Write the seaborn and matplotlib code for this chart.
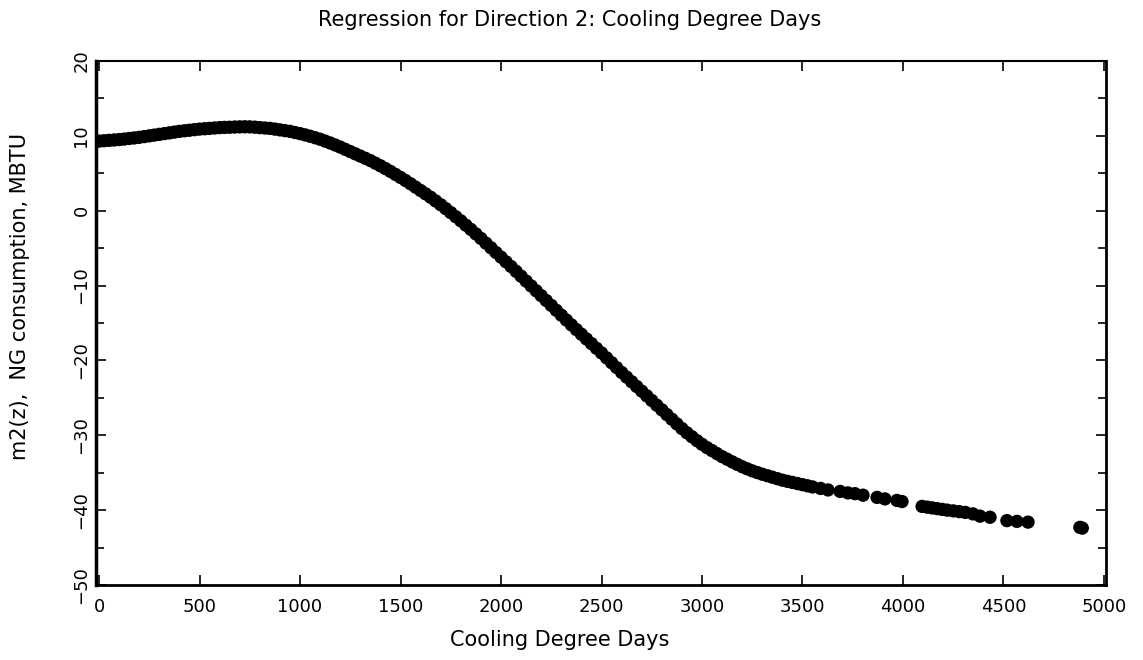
import matplotlib
matplotlib.use("Agg")
import matplotlib.pyplot as plt
import seaborn as sns
import pandas as pd
from matplotlib.ticker import MultipleLocator

# ---- data ----
cdd_band = [0, 25, 50, 75, 100, 125, 150, 175, 200, 225, 250, 275, 300, 325, 350, 375,
            400, 425, 450, 475, 500, 525, 550, 575, 600, 625, 650, 675, 700, 725, 750, 775,
            800, 825, 850, 875, 900, 925, 950, 975, 1000, 1025, 1050, 1075, 1100, 1125, 1150, 1175,
            1200, 1225, 1250, 1275, 1300, 1325, 1350, 1375, 1400, 1425, 1450, 1475, 1500, 1525, 1550, 1575,
            1600, 1625, 1650, 1675, 1700, 1725, 1750, 1775, 1800, 1825, 1850, 1875, 1900, 1925, 1950, 1975,
            2000, 2025, 2050, 2075, 2100, 2125, 2150, 2175, 2200, 2225, 2250, 2275, 2300, 2325, 2350, 2375,
            2400, 2425, 2450, 2475, 2500, 2525, 2550, 2575, 2600, 2625, 2650, 2675, 2700, 2725, 2750, 2775,
            2800, 2825, 2850, 2875, 2900, 2925, 2950, 2975, 3000, 3025, 3050, 3075, 3100, 3125, 3150, 3175,
            3200, 3225, 3250, 3275, 3300, 3325, 3350, 3375, 3400, 3425, 3450, 3475, 3500, 3525, 3550]
m2_band = [9.3, 9.35, 9.4, 9.45, 9.5, 9.57, 9.65, 9.72, 9.8, 9.9, 10.0, 10.1, 10.2, 10.3, 10.4, 10.5,
           10.6, 10.68, 10.75, 10.83, 10.9, 10.95, 11.0, 11.05, 11.1, 11.13, 11.15, 11.18, 11.2, 11.21, 11.2, 11.16,
           11.1, 11.05, 11.0, 10.9, 10.8, 10.7, 10.6, 10.45, 10.3, 10.13, 9.95, 9.75, 9.55, 9.3, 9.05, 8.78,
           8.5, 8.2, 7.9, 7.6, 7.3, 7.0, 6.7, 6.35, 6.0, 5.63, 5.25, 4.85, 4.45, 4.03, 3.6, 3.15,
           2.7, 2.25, 1.8, 1.3, 0.8, 0.28, -0.25, -0.8, -1.35, -1.93, -2.5, -3.1, -3.7, -4.33, -4.95, -5.58,
           -6.2, -6.83, -7.45, -8.1, -8.75, -9.4, -10.05, -10.7, -11.35, -12.0, -12.65, -13.3, -13.95, -14.6, -15.25, -15.88,
           -16.5, -17.13, -17.75, -18.38, -19.0, -19.65, -20.3, -20.95, -21.6, -22.23, -22.85, -23.48, -24.1, -24.73, -25.35, -25.98,
           -26.6, -27.23, -27.85, -28.48, -29.1, -29.67, -30.2, -30.72, -31.2, -31.65, -32.05, -32.45, -32.85, -33.2, -33.55, -33.88,
           -34.2, -34.48, -34.75, -34.98, -35.2, -35.4, -35.6, -35.8, -36.0, -36.15, -36.3, -36.45, -36.6, -36.75, -36.9]
cdd_tail = [3590, 3627, 3687, 3726, 3761, 3801, 3871, 3910, 3970, 3995,
            4095, 4120, 4145, 4170, 4195, 4220, 4250, 4280, 4310, 4348,
            4383, 4433, 4517, 4567, 4622, 4880, 4892]
m2_tail = [-37.1, -37.3, -37.5, -37.7, -37.8, -38.0, -38.3, -38.5, -38.7, -38.85,
           -39.5, -39.6, -39.7, -39.8, -39.9, -40.0, -40.1, -40.2, -40.3, -40.5,
           -40.8, -40.95, -41.4, -41.5, -41.6, -42.3, -42.4]

x_ticks = [0, 500, 1000, 1500, 2000, 2500, 3000, 3500, 4000, 4500, 5000]
y_ticks = [-50, -40, -30, -20, -10, 0, 10, 20]

title = "Regression for Direction 2: Cooling Degree Days"
xlabel = "Cooling Degree Days"
ylabel = "m2(z),  NG consumption, MBTU"

df = pd.DataFrame({"cdd": cdd_band + cdd_tail, "m2": m2_band + m2_tail})

sns.set_theme(style="ticks")
plt.rcParams["font.family"] = ["DejaVu Sans"]
plt.rcParams["text.color"] = "black"
plt.rcParams["axes.labelcolor"] = "black"
plt.rcParams["xtick.color"] = "black"
plt.rcParams["ytick.color"] = "black"

fig = plt.figure(figsize=(11.43, 6.6), dpi=100)
ax = fig.add_axes([96 / 1143, 1 - 585 / 660, 1010 / 1143, 524 / 660])

sns.scatterplot(data=df, x="cdd", y="m2", ax=ax, color="black", s=92,
                linewidth=0, edgecolor="none", legend=False)

ax.set_xlim(-15, 5010)
ax.set_ylim(-50, 20)
ax.set_xticks(x_ticks)
ax.set_yticks(y_ticks)
ax.set_xticklabels([str(t) for t in x_ticks], fontsize=13)
ax.set_yticklabels([str(t).replace("-", "\u2212") for t in y_ticks], fontsize=13,
                   rotation=90, va="center")
ax.yaxis.set_minor_locator(MultipleLocator(5))

ax.tick_params(axis="both", which="both", direction="in", top=True, right=True,
               color="black", width=1.2, labelcolor="black")
ax.tick_params(axis="both", which="major", length=7)
ax.tick_params(axis="both", which="minor", length=6)
ax.tick_params(axis="x", which="major", pad=9)
ax.tick_params(axis="y", which="major", pad=4)

for side, lw in {"left": 2.5, "bottom": 2.0, "right": 2.0, "top": 1.5}.items():
    ax.spines[side].set_visible(True)
    ax.spines[side].set_linewidth(lw)
    ax.spines[side].set_color("black")

ax.set_xlabel("")
ax.set_ylabel(ylabel, fontsize=15, color="black")
ax.yaxis.set_label_coords(-0.065, 0.55)

fig.text(560 / 1143, 1 - 640 / 660, xlabel, fontsize=15, ha="center", va="center",
         color="black")
fig.text(570 / 1143, 1 - 20 / 660, title, fontsize=15, ha="center", va="center",
         color="black")

fig.savefig("out.png", dpi=100, facecolor="white")
